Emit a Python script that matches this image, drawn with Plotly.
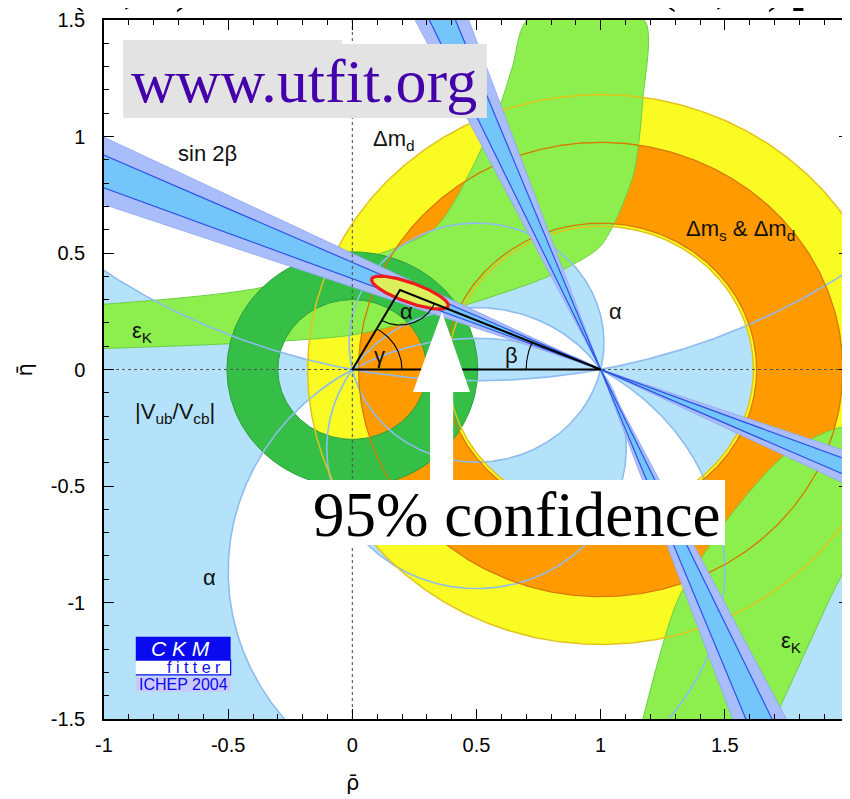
import numpy as np
import plotly.graph_objects as go

# ---------------- axes ----------------
X_RANGE = [-1, 2]
Y_RANGE = [-1.5, 1.5]
X_TICKS = [-1, -0.5, 0, 0.5, 1, 1.5, 2]
X_TICK_TEXT = ["-1", "-0.5", "0", "0.5", "1", "1.5", "2"]
Y_TICKS = [-1.5, -1, -0.5, 0, 0.5, 1, 1.5]
Y_TICK_TEXT = ["-1.5", "-1", "-0.5", "0", "0.5", "1", "1.5"]

# ---------------- constraints ----------------
APEX = [0.192, 0.341]                 # unitarity-triangle apex (rho, eta)
ALPHA_BOUNDS_DEG = [11, 77, 124, 150]  # boundaries of the alpha constraint
DMD_RING = [0.615, 1.18]               # Delta m_d ring around (1,0)
DMS_RING = [0.628, 0.975]              # Delta m_s & Delta m_d ring around (1,0)
VUB_RING = [0.30, 0.505]               # |Vub/Vcb| ring around (0,0)
SIN2B_OUTER_DEG = [19.5, 26.5]
SIN2B_INNER_DEG = [21.3, 24.7]

EPSK_UP_EDGE1_X = [-1.0, -0.35, 0.325, 0.48, 0.60, 0.645, 0.705]
EPSK_UP_EDGE1_Y = [0.28, 0.355, 0.60, 0.86, 1.15, 1.30, 1.50]
EPSK_UP_EDGE2_X = [1.175, 1.17, 1.13, 1.00, 0.79, 0.39, 0.00, -1.00]
EPSK_UP_EDGE2_Y = [1.50, 1.16, 0.83, 0.53, 0.40, 0.255, 0.148, 0.09]
EPSK_LO_EDGE1_X = [1.17, 1.31, 1.52, 1.75, 2.00]
EPSK_LO_EDGE1_Y = [-1.50, -0.99, -0.63, -0.36, -0.25]
EPSK_LO_EDGE2_X = [2.00, 1.92, 1.70]
EPSK_LO_EDGE2_Y = [-0.80, -0.99, -1.50]

FIT_CENTER = [0.232, 0.330]
FIT_AXES = [0.165, 0.042]
FIT_TILT_DEG = -21

# overlay geometry (data units)
UTFIT_BOX_X = [-0.923, -0.923, -0.041, -0.041, 0.542, 0.542]
UTFIT_BOX_Y = [1.079, 1.414, 1.414, 1.397, 1.397, 1.079]
CONF_BOX_X = [-0.178, 1.501]
CONF_BOX_Y = [-0.753, -0.474]
ARROW_TIP = [0.361, 0.247]
ARROW_HEAD_X = [0.244, 0.474]
ARROW_HEAD_Y = -0.097
ARROW_SHAFT_X = [0.313, 0.406]
ARROW_SHAFT_BOTTOM = -0.474
LOGO_X = [-0.872, -0.490]
LOGO_Y = [-1.147, -1.247, -1.311, -1.318, -1.383]

# colours
LIGHT_BLUE = "#b4e2fa"
LIGHT_BLUE_LINE = "#8fbcef"
YELLOW = "#fbfb24"
YELLOW_LINE = "#e2c31c"
ORANGE = "#ff9a00"
ORANGE_LINE = "#d97800"
LIGHT_GREEN = "#8cef4d"
LIGHT_GREEN_LINE = "#6ccf45"
DARK_GREEN = "#36bf46"
DARK_GREEN_LINE = "#2a9e3a"
LAVENDER = "#a9bdfb"
SKY = "#74c6fa"
BLUE_LINE = "#2e52e6"

FONT = "Liberation Sans, Arial, sans-serif"
SERIF = "Liberation Serif, Times New Roman, serif"

traces = []


def poly(x, y, color, line_color=None, lw=0, shape="linear"):
    ln = dict(color=line_color or color, width=lw, shape=shape)
    if shape == "spline":
        ln["smoothing"] = 0.7
    traces.append(go.Scatter(x=list(x), y=list(y), mode="lines", fill="toself",
                             fillcolor=color, line=ln,
                             hoverinfo="skip", showlegend=False))


def line(x, y, color, lw, dash="solid"):
    traces.append(go.Scatter(x=list(x), y=list(y), mode="lines",
                             line=dict(color=color, width=lw, dash=dash),
                             hoverinfo="skip", showlegend=False))


def arc(cx, cy, r, a0, a1, n=400):
    t = np.radians(np.linspace(a0, a1, n))
    return cx + r * np.cos(t), cy + r * np.sin(t)


def alpha_circle(a_deg):
    t = np.radians(a_deg)
    return 0.5, 0.5 / np.tan(t), 0.5 / abs(np.sin(t))


def ends(c):
    cx, cy, r = c
    aA = np.degrees(np.arctan2(-cy, -cx))
    aB = np.degrees(np.arctan2(-cy, 1 - cx))
    return aA, aB


def upper_arc(c):  # from B(1,0) to A(0,0) over the top
    cx, cy, r = c
    aA, aB = ends(c)
    if aA < aB:
        aA += 360
    return arc(cx, cy, r, aB, aA)


def lower_arc(c):  # from A(0,0) to B(1,0) under the bottom
    cx, cy, r = c
    aA, aB = ends(c)
    if aB < aA:
        aB += 360
    return arc(cx, cy, r, aA, aB)


G = [alpha_circle(a) for a in ALPHA_BOUNDS_DEG]
G11, G77, G124, G150 = G

# ---- alpha allowed regions ----
ux, uy = upper_arc(G11)
poly(np.r_[[0, -5, -5, 6, 6, 1], ux], np.r_[[0, 0, 6, 6, 0, 0], uy], LIGHT_BLUE)
lx, ly = lower_arc(G150)
poly(np.r_[[0, -5, -5, 6, 6, 1], lx[::-1]], np.r_[[0, 0, -6, -6, 0, 0], ly[::-1]], LIGHT_BLUE)
ux, uy = upper_arc(G150)
poly(ux, uy, LIGHT_BLUE)
lx, ly = lower_arc(G11)
poly(lx, ly, LIGHT_BLUE)
u1x, u1y = upper_arc(G77)
u2x, u2y = upper_arc(G124)
poly(np.r_[u1x, u2x[::-1]], np.r_[u1y, u2y[::-1]], LIGHT_BLUE)
l1x, l1y = lower_arc(G124)
l2x, l2y = lower_arc(G77)
poly(np.r_[l1x, l2x[::-1]], np.r_[l1y, l2y[::-1]], LIGHT_BLUE)


def annulus(cx, cy, r_in, r_out):
    xo, yo = arc(cx, cy, r_out, 0, 360, 600)
    xi, yi = arc(cx, cy, r_in, 360, 0, 600)
    return np.r_[xo, xi], np.r_[yo, yi]


# ---- Delta m_d and Delta m_s rings ----
poly(*annulus(1, 0, *DMD_RING), YELLOW)
poly(*annulus(1, 0, *DMS_RING), ORANGE)

# ---- epsilon_K ----
poly(EPSK_UP_EDGE1_X + EPSK_UP_EDGE2_X, EPSK_UP_EDGE1_Y + EPSK_UP_EDGE2_Y,
     LIGHT_GREEN, LIGHT_GREEN_LINE, 1, "spline")
poly(EPSK_LO_EDGE1_X + EPSK_LO_EDGE2_X, EPSK_LO_EDGE1_Y + EPSK_LO_EDGE2_Y,
     LIGHT_GREEN, LIGHT_GREEN_LINE, 1, "spline")

# ---- |Vub/Vcb| ----
poly(*annulus(0, 0, *VUB_RING), DARK_GREEN)
for r in VUB_RING:
    line(*arc(0, 0, r, 0, 360, 400), DARK_GREEN_LINE, 1)

# ---- alpha boundary lines ----
for c in G:
    line(*arc(c[0], c[1], c[2], 0, 360, 1500), LIGHT_BLUE_LINE, 1.6)

# ---- ring edges ----
for r in DMD_RING:
    line(*arc(1, 0, r, 0, 360, 600), YELLOW_LINE, 1.5)
for r in DMS_RING:
    line(*arc(1, 0, r, 0, 360, 600), ORANGE_LINE, 1.3)


# ---- sin 2 beta (two solutions) ----
def wedge(t1, t2, L=5):
    a1, a2 = np.radians(t1), np.radians(t2)
    d1 = np.array([-np.cos(a1), np.sin(a1)])
    d2 = np.array([-np.cos(a2), np.sin(a2)])
    x = [1, 1 + L * d1[0], 1 + L * d2[0], 1, 1 - L * d1[0], 1 - L * d2[0], 1]
    y = [0, L * d1[1], L * d2[1], 0, -L * d1[1], -L * d2[1], 0]
    return x, y


def ray(t, L=5):
    a = np.radians(t)
    return [1 + L * np.cos(a), 1 - L * np.cos(a)], [-L * np.sin(a), L * np.sin(a)]


for flip in (False, True):
    outer = [90 - v for v in SIN2B_OUTER_DEG] if flip else SIN2B_OUTER_DEG
    inner = [90 - v for v in SIN2B_INNER_DEG] if flip else SIN2B_INNER_DEG
    poly(*wedge(*outer), LAVENDER)
    poly(*wedge(*inner), SKY)
    for t in outer:
        line(*ray(t), "#8ea6f4", 0.8)
    for t in inner:
        line(*ray(t), BLUE_LINE, 1.2)

# ---- reference dotted axes ----
line(X_RANGE, [0, 0], "#555555", 1.1, "dot")
line([0, 0], Y_RANGE, "#555555", 1.1, "dot")

# ---- global fit contour ----
tt = np.linspace(0, 2 * np.pi, 200)
ph = np.radians(FIT_TILT_DEG)
ex = FIT_CENTER[0] + FIT_AXES[0] * np.cos(tt) * np.cos(ph) - FIT_AXES[1] * np.sin(tt) * np.sin(ph)
ey = FIT_CENTER[1] + FIT_AXES[0] * np.cos(tt) * np.sin(ph) + FIT_AXES[1] * np.sin(tt) * np.cos(ph)
poly(ex, ey, "#dcef5c", "#ee1c1c", 3.2)

# ---- triangle and angle arcs ----
line([0, 1, APEX[0], 0], [0, 0, APEX[1], 0], "black", 2)
angA = np.degrees(np.arctan2(APEX[1], APEX[0]))
angB = np.degrees(np.arctan2(APEX[1], 1 - APEX[0]))
line(*arc(0, 0, 0.2, 0, angA, 60), "black", 1.1)
line(*arc(1, 0, 0.3, 180 - angB, 180, 60), "black", 1.1)
line(*arc(APEX[0], APEX[1], 0.15, -180 + angA, -angB, 60), "black", 1.1)

# ---- overlays ----
poly(UTFIT_BOX_X, UTFIT_BOX_Y, "#e3e3e3")
poly([ARROW_SHAFT_X[0], ARROW_SHAFT_X[0], ARROW_HEAD_X[0], ARROW_TIP[0], ARROW_HEAD_X[1],
      ARROW_SHAFT_X[1], ARROW_SHAFT_X[1]],
     [ARROW_SHAFT_BOTTOM, ARROW_HEAD_Y, ARROW_HEAD_Y, ARROW_TIP[1], ARROW_HEAD_Y,
      ARROW_HEAD_Y, ARROW_SHAFT_BOTTOM], "white")
poly([CONF_BOX_X[0], CONF_BOX_X[1], CONF_BOX_X[1], CONF_BOX_X[0]],
     [CONF_BOX_Y[0], CONF_BOX_Y[0], CONF_BOX_Y[1], CONF_BOX_Y[1]], "white")
# CKMfitter logo
poly([LOGO_X[0], LOGO_X[1], LOGO_X[1], LOGO_X[0]], [LOGO_Y[0], LOGO_Y[0], LOGO_Y[1], LOGO_Y[1]], "#0a0af0")
poly([LOGO_X[0], LOGO_X[1], LOGO_X[1], LOGO_X[0]], [LOGO_Y[1], LOGO_Y[1], LOGO_Y[2], LOGO_Y[2]], "white", "#0a0af0", 1.2)
poly([LOGO_X[0], LOGO_X[1], LOGO_X[1], LOGO_X[0]], [LOGO_Y[3], LOGO_Y[3], LOGO_Y[4], LOGO_Y[4]], "#c9c9fb")

fig = go.Figure(traces)

LABELS = [
    ("sin 2β", -0.585, 0.925),
    ("Δm<sub>d</sub>", 0.168, 0.985),
    ("Δm<sub>s</sub> &amp; Δm<sub>d</sub>", 1.563, 0.597),
    ("ε<sub>K</sub>", -0.843, 0.160),
    ("ε<sub>K</sub>", 1.767, -1.171),
    ("|V<sub>ub</sub>/V<sub>cb</sub>|", -0.714, -0.188),
    ("α", -0.577, -0.891),
    ("α", 1.058, 0.247),
    ("α", 0.220, 0.251),
    ("γ", 0.111, 0.058),
    ("β", 0.639, 0.062),
]
ann = []
for txt, x, y in LABELS:
    ann.append(dict(text=txt, x=x, y=y, xref="x", yref="y", showarrow=False,
                    font=dict(family=FONT, size=22, color="#111111")))

ann += [
    dict(text="www.utfit.org", x=-0.195, y=1.238, xref="x", yref="y", showarrow=False,
         font=dict(family=SERIF, size=62, color="#4400aa")),
    dict(text="95% confidence", x=0.662, y=-0.625, xref="x", yref="y", showarrow=False,
         font=dict(family=SERIF, size=63, color="black")),
    dict(text="<i>C K M</i>", x=-0.693, y=-1.197, xref="x", yref="y", showarrow=False,
         font=dict(family=FONT, size=21, color="white")),
    dict(text="f i t t e r", x=-0.637, y=-1.279, xref="x", yref="y", showarrow=False,
         font=dict(family=FONT, size=16, color="#0a0af0")),
    dict(text="ICHEP 2004", x=-0.68, y=-1.351, xref="x", yref="y", showarrow=False,
         font=dict(family=FONT, size=16, color="#0a0af0")),
    # axis titles
    dict(text="ρ̄", x=0.322, y=-0.112, xref="paper", yref="paper", showarrow=False,
         font=dict(family="DejaVu Sans, sans-serif", size=21, color="black")),
    dict(text="η̄", x=-0.125, y=0.5, xref="paper", yref="paper", showarrow=False,
         textangle=-90, font=dict(family="DejaVu Sans, sans-serif", size=21, color="black")),
    # cut-off slide titles at the very top (only the lowest pixels show)
    dict(text="(   ,   )", x=0.035, y=1.0072, xref="paper", yref="paper", xanchor="center",
         yanchor="bottom", showarrow=False, font=dict(family=SERIF, size=52, color="black")),
    dict(text="(   ,   )", x=0.83, y=1.0072, xref="paper", yref="paper", xanchor="center",
         yanchor="bottom", showarrow=False, font=dict(family=SERIF, size=52, color="black")),
    dict(text="<b>ρ</b>", x=0.917, y=1.0086, xref="paper", yref="paper", xanchor="left",
         yanchor="bottom", showarrow=False, font=dict(family=SERIF, size=72, color="black")),
]

axis_common = dict(showgrid=False, zeroline=False, showline=True, linecolor="black",
                   linewidth=1.5, mirror="allticks", ticks="inside", ticklen=10,
                   tickwidth=1.3, tickcolor="black", automargin=False,
                   ticklabeloverflow="allow",
                   tickfont=dict(family=FONT, size=20, color="black"),
                   minor=dict(dtick=0.1, ticks="inside", ticklen=5, tickwidth=1,
                              tickcolor="black", showgrid=False))

# the page has an 8 px body margin, so the figure is 8 px smaller than the window
fig.update_layout(
    width=842, height=791, margin=dict(l=96, r=1, t=12, b=80, autoexpand=False),
    plot_bgcolor="white", paper_bgcolor="white", showlegend=False,
    xaxis=dict(range=X_RANGE, tickvals=X_TICKS, ticktext=X_TICK_TEXT,
               ticklabelstandoff=7, **axis_common),
    yaxis=dict(range=Y_RANGE, tickvals=Y_TICKS, ticktext=Y_TICK_TEXT,
               ticklabelstandoff=13, **axis_common),
    annotations=ann,
)

fig.write_html("out.html")
